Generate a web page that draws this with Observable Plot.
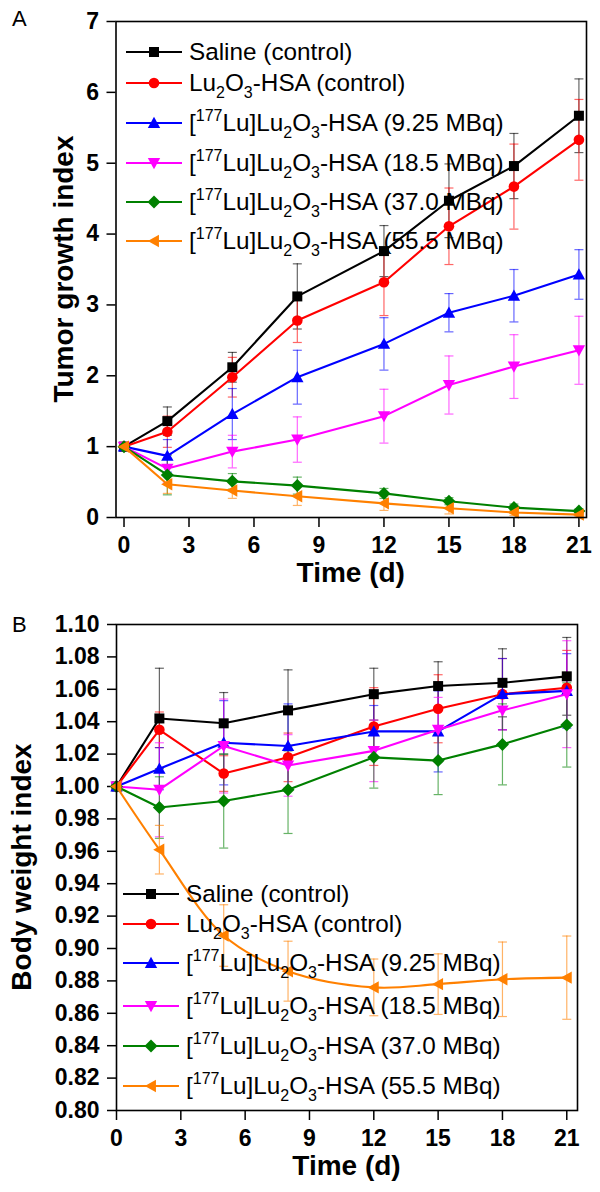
<!DOCTYPE html>
<html>
<head>
<meta charset="utf-8">
<script src="https://cdn.jsdelivr.net/npm/d3@7"></script>
<script src="https://cdn.jsdelivr.net/npm/@observablehq/plot@0.6"></script>
<style>
  body { margin: 0; background: #fff; }
  #chart svg { display: block; }
</style>
</head>
<body>
<div id="chart"></div>
<script>
// ---------- data ----------
const days = [0, 2, 5, 8, 12, 15, 18, 21];
const xTicks = [0, 3, 6, 9, 12, 15, 18, 21];
const tumorTicks = [0, 1, 2, 3, 4, 5, 6, 7];
const weightTicks = [0.80, 0.82, 0.84, 0.86, 0.88, 0.90, 0.92, 0.94, 0.96, 0.98, 1.00, 1.02, 1.04, 1.06, 1.08, 1.10];
const seriesColors = ["#000000", "#ff0000", "#0000ff", "#ff00ff", "#008000", "#ff8000"];

// Panel A: tumor growth index (mean, error)
const tumorSaline = [1, 1.36, 2.12, 3.12, 3.76, 4.47, 4.96, 5.67];
const tumorSalineErr = [0, 0.2, 0.21, 0.46, 0.36, 0.52, 0.46, 0.52];
const tumorLu2O3 = [1, 1.21, 1.98, 2.78, 3.32, 4.11, 4.67, 5.33];
const tumorLu2O3Err = [0, 0.22, 0.28, 0.31, 0.47, 0.54, 0.6, 0.57];
const tumor925 = [1, 0.87, 1.46, 1.98, 2.45, 2.89, 3.13, 3.43];
const tumor925Err = [0, 0.23, 0.36, 0.38, 0.37, 0.27, 0.37, 0.35];
const tumor185 = [1, 0.69, 0.93, 1.1, 1.43, 1.87, 2.13, 2.36];
const tumor185Err = [0, 0.2, 0.23, 0.32, 0.38, 0.41, 0.45, 0.48];
const tumor370 = [1, 0.6, 0.51, 0.45, 0.34, 0.23, 0.14, 0.09];
const tumor370Err = [0, 0.28, 0.11, 0.12, 0.07, 0.05, 0.05, 0.03];
const tumor555 = [1, 0.47, 0.38, 0.3, 0.2, 0.13, 0.07, 0.04];
const tumor555Err = [0, 0.13, 0.11, 0.13, 0.1, 0.08, 0.04, 0.03];

// Panel B: body weight index (mean, error)
const weightSaline = [1, 1.042, 1.039, 1.047, 1.057, 1.062, 1.064, 1.068];
const weightSalineErr = [0, 0.031, 0.019, 0.025, 0.016, 0.015, 0.021, 0.024];
const weightLu2O3 = [1, 1.035, 1.008, 1.018, 1.037, 1.048, 1.057, 1.061];
const weightLu2O3Err = [0, 0.011, 0.011, 0.015, 0.024, 0.021, 0.022, 0.023];
const weight925 = [1, 1.011, 1.027, 1.025, 1.034, 1.034, 1.057, 1.059];
const weight925Err = [0, 0.013, 0.026, 0.026, 0.016, 0.025, 0.022, 0.023];
const weight185 = [1, 0.998, 1.025, 1.013, 1.022, 1.035, 1.047, 1.057];
const weight185Err = [0, 0.029, 0.029, 0.019, 0.019, 0.02, 0.012, 0.033];
const weight370 = [1, 0.987, 0.991, 0.998, 1.018, 1.016, 1.026, 1.038];
const weight370Err = [0, 0.019, 0.029, 0.027, 0.019, 0.021, 0.025, 0.026];
const weight555 = [1, 0.961, 0.908, 0.886, 0.876, 0.878, 0.881, 0.882];
const weight555Err = [0, 0.015, 0.019, 0.0185, 0.0175, 0.0187, 0.023, 0.0257];

// Legend labels (segments: text, and optional "sub"/"sup")
const legendLabels = [
  [["Saline (control)"]],
  [["Lu"], ["2", "sub"], ["O"], ["3", "sub"], ["-HSA (control)"]],
  [["["], ["177", "sup"], ["Lu]Lu"], ["2", "sub"], ["O"], ["3", "sub"], ["-HSA (9.25 MBq)"]],
  [["["], ["177", "sup"], ["Lu]Lu"], ["2", "sub"], ["O"], ["3", "sub"], ["-HSA (18.5 MBq)"]],
  [["["], ["177", "sup"], ["Lu]Lu"], ["2", "sub"], ["O"], ["3", "sub"], ["-HSA (37.0 MBq)"]],
  [["["], ["177", "sup"], ["Lu]Lu"], ["2", "sub"], ["O"], ["3", "sub"], ["-HSA (55.5 MBq)"]]
];

// ---------- symbols ----------
const rad = s => Math.sqrt(s / Math.PI);
const sym = {
  square: { draw(c, s) { const r = rad(s); c.rect(-r, -r, 2 * r, 2 * r); } },
  circle: { draw(c, s) { const r = rad(s); c.moveTo(r, 0); c.arc(0, 0, r, 0, 2 * Math.PI); } },
  up: { draw(c, s) { const r = rad(s); c.moveTo(0, -r); c.lineTo(r, r * 0.8); c.lineTo(-r, r * 0.8); c.closePath(); } },
  down: { draw(c, s) { const r = rad(s); c.moveTo(0, r); c.lineTo(r, -r * 0.8); c.lineTo(-r, -r * 0.8); c.closePath(); } },
  diamond: { draw(c, s) { const r = rad(s); c.moveTo(0, -r); c.lineTo(r, 0); c.lineTo(0, r); c.lineTo(-r, 0); c.closePath(); } },
  left: { draw(c, s) { const r = rad(s); c.moveTo(-r, 0); c.lineTo(r * 0.8, -r); c.lineTo(r * 0.8, r); c.closePath(); } },
  hbar: { draw(c, s) { const r = rad(s); c.moveTo(-r, 0); c.lineTo(r, 0); } }
};
const seriesSymbols = [sym.square, sym.circle, sym.up, sym.down, sym.diamond, sym.left];
const seriesR = [5, 5.3, 6.2, 6.2, 6.5, 6.2];

const FONT = "'Liberation Sans', Arial, sans-serif";

function rowsOf(means, errs) {
  return days.map((d, i) => ({ day: d, v: means[i], e: errs[i], lo: means[i] - errs[i], hi: means[i] + errs[i] }));
}

function buildPanel(cfg) {
  const all = cfg.means.map((m, k) => rowsOf(m, cfg.errs[k]));
  const errMarks = [], lineMarks = [];
  all.forEach((rows, k) => {
    const col = seriesColors[k];
    const er = rows.filter(r => r.e > 0);
    errMarks.push(
      Plot.ruleX(er, { x: "day", y1: "lo", y2: "hi", stroke: col, strokeWidth: 1.2, strokeOpacity: 0.6 }),
      Plot.dot(er, { x: "day", y: "hi", symbol: sym.hbar, r: 4.5, stroke: col, fill: "none", strokeWidth: 1.2, strokeOpacity: 0.6 }),
      Plot.dot(er, { x: "day", y: "lo", symbol: sym.hbar, r: 4.5, stroke: col, fill: "none", strokeWidth: 1.2, strokeOpacity: 0.6 })
    );
    lineMarks.push(
      Plot.line(rows, { x: "day", y: "v", stroke: col, strokeWidth: 2.1, curve: (cfg.smooth && cfg.smooth[k]) ? "catmull-rom" : "linear" }),
      Plot.dot(rows, { x: "day", y: "v", symbol: seriesSymbols[k], r: seriesR[k], fill: col, stroke: "none" })
    );
  });

  const svg = Plot.plot({
    width: 600,
    height: cfg.height,
    marginTop: cfg.mt, marginBottom: cfg.mb, marginLeft: cfg.ml, marginRight: cfg.mr,
    x: { domain: cfg.xDomain },
    y: { domain: cfg.yDomain },
    style: { fontFamily: FONT, fontSize: "23px", fontWeight: "bold", color: "#000", background: "#fff" },
    marks: [
      Plot.axisX({ ticks: xTicks, tickSize: 10, tickPadding: cfg.xPad, label: null, strokeWidth: 1.5, fontSize: 23, fontWeight: "bold" }),
      Plot.axisY({ ticks: cfg.yTicks, tickSize: 9, tickPadding: 8, label: null, strokeWidth: 1.5, tickFormat: cfg.yFormat, fontSize: 23, fontWeight: "bold" }),
      ...errMarks,
      ...lineMarks,
      Plot.frame({ stroke: "#000", strokeWidth: 1.6 })
    ]
  });

  const s = d3.select(svg);
  // panel letter
  s.append("text").attr("x", 12).attr("y", cfg.letterY).attr("font-family", FONT).attr("text-anchor", "start")
    .attr("font-size", 22).attr("font-weight", "normal").attr("fill", "#000").text(cfg.letter);
  // y axis title
  s.append("text").attr("transform", `translate(${cfg.yTitleX},${(cfg.mt + cfg.height - cfg.mb) / 2}) rotate(-90)`)
    .attr("text-anchor", "middle").attr("font-family", FONT).attr("font-size", 28)
    .attr("font-weight", "bold").attr("fill", "#000").text(cfg.yTitle);
  // x axis title
  s.append("text").attr("x", (cfg.ml + 600 - cfg.mr) / 2).attr("y", cfg.xTitleY)
    .attr("text-anchor", "middle").attr("font-family", FONT).attr("font-size", 28)
    .attr("font-weight", "bold").attr("fill", "#000").text("Time (d)");

  // legend
  const g = s.append("g").attr("font-family", FONT).attr("font-weight", "normal").attr("text-anchor", "start");
  legendLabels.forEach((segs, k) => {
    const y = cfg.legendY[k];
    const col = seriesColors[k];
    g.append("line").attr("x1", cfg.legX0).attr("x2", cfg.legX1).attr("y1", y).attr("y2", y)
      .attr("stroke", col).attr("stroke-width", 2);
    const p = d3.path();
    seriesSymbols[k].draw(p, seriesR[k] * seriesR[k] * Math.PI);
    g.append("path").attr("d", p.toString()).attr("transform", `translate(${(cfg.legX0 + cfg.legX1) / 2},${y})`).attr("fill", col);
    const t = g.append("text").attr("x", cfg.legTx).attr("y", y + 8).attr("font-size", 24.3)
      .attr("text-anchor", "start").attr("fill", "#000");
    let shift = 0;
    segs.forEach(([txt, kind]) => {
      const target = kind === "sup" ? -10 : kind === "sub" ? 7 : 0;
      const ts = t.append("tspan").attr("dy", target - shift).text(txt);
      if (kind) ts.attr("font-size", 16);
      shift = target;
    });
  });
  return svg;
}

const chart = document.getElementById("chart");

chart.appendChild(buildPanel({
  height: 595, mt: 21, mb: 78, ml: 115.5, mr: 14,
  xDomain: [-0.37, 21.35], yDomain: [0, 7], yTicks: tumorTicks, yFormat: d3.format("d"),
  means: [tumorSaline, tumorLu2O3, tumor925, tumor185, tumor370, tumor555],
  errs: [tumorSalineErr, tumorLu2O3Err, tumor925Err, tumor185Err, tumor370Err, tumor555Err],
  xPad: 9,
  letter: "A", letterY: 26, yTitle: "Tumor growth index", yTitleX: 73, xTitleY: 582,
  legendY: [52, 83, 123, 163, 202, 241], legX0: 126, legX1: 182, legTx: 189
}));

chart.appendChild(buildPanel({
  height: 597, mt: 29, mb: 82, ml: 116, mr: 23,
  xDomain: [0, 21.5], yDomain: [0.80, 1.10], yTicks: weightTicks, yFormat: d3.format(".2f"),
  means: [weightSaline, weightLu2O3, weight925, weight185, weight370, weight555],
  errs: [weightSalineErr, weightLu2O3Err, weight925Err, weight185Err, weight370Err, weight555Err],
  smooth: [false, false, false, false, false, true],
  xPad: 9,
  letter: "B", letterY: 37, yTitle: "Body weight index", yTitleX: 31, xTitleY: 580,
  legendY: [299, 329, 368, 411, 451, 491], legX0: 123, legX1: 179, legTx: 186
}));
</script>
</body>
</html>
